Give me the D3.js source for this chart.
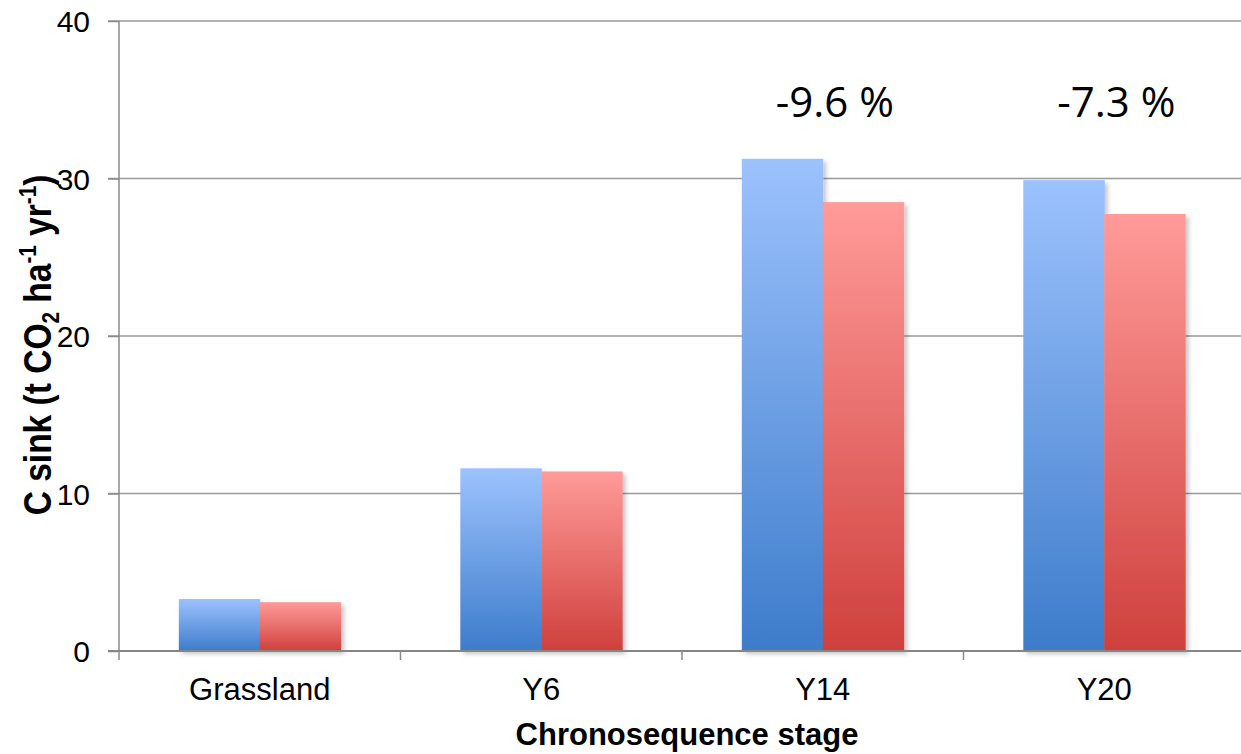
<!DOCTYPE html>
<html>
<head>
<meta charset="utf-8">
<script src="https://cdn.jsdelivr.net/npm/d3@7"></script>
<style>
  html, body { margin: 0; padding: 0; background: #fff; }
  svg { display: block; }
</style>
</head>
<body>
<svg id="chart" width="1241" height="754"></svg>
<script>
// ---- data ----
const categories = ["Grassland", "Y6", "Y14", "Y20"];
const seriesNames = ["blue", "red"];
const blueValues = [3.3, 11.6, 31.25, 29.9];
const redValues = [3.1, 11.4, 28.5, 27.75];
const changeLabels = [null, null, "-9.6 %", "-7.3 %"];
const yTicks = [0, 10, 20, 30, 40];
const xTitle = "Chronosequence stage";

(function () {
// ---- layout ----
const svg = d3.select("#chart");
const mLeft = 119, mRight = 1245, mTop = 21, mBottom = 651;

const x0 = d3.scaleBand().domain(categories).range([mLeft, mRight])
  .paddingInner(0.425).paddingOuter(0.2125);
const x1 = d3.scaleBand().domain(seriesNames).range([0, x0.bandwidth()]);
const y = d3.scaleLinear().domain([0, 40]).range([mBottom, mTop]);

const defs = svg.append("defs");
function grad(id, c1, c2) {
  const g = defs.append("linearGradient").attr("id", id)
    .attr("x1", 0).attr("y1", 0).attr("x2", 0).attr("y2", 1);
  g.append("stop").attr("offset", "0%").attr("stop-color", c1);
  g.append("stop").attr("offset", "100%").attr("stop-color", c2);
}
grad("gBlue", "#9cc2fd", "#3d7ccb");
grad("gRed", "#ff9b99", "#cf403d");
const f = defs.append("filter").attr("id", "shadow")
  .attr("x", "-10%").attr("y", "-10%").attr("width", "130%").attr("height", "130%");
f.append("feDropShadow").attr("dx", 3).attr("dy", 3).attr("stdDeviation", 2)
  .attr("flood-color", "#000").attr("flood-opacity", 0.22);

// gridlines
svg.append("g").selectAll("line").data(yTicks.filter(d => d > 0)).join("line")
  .attr("x1", 108).attr("x2", 1241)
  .attr("y1", d => y(d)).attr("y2", d => y(d))
  .attr("stroke", "#9a9a9a").attr("stroke-width", 1.5);

// y axis
const yAxis = d3.axisLeft(y).tickValues(yTicks).tickSize(11).tickPadding(18);
const gy = svg.append("g").attr("transform", `translate(${mLeft},0)`).call(yAxis);
gy.select(".domain").remove();
gy.selectAll(".tick line").attr("stroke", "#8a8a8a").attr("stroke-width", 1.5);
gy.selectAll(".tick text").attr("font-family", "Liberation Sans, Arial, sans-serif")
  .attr("font-size", 30).attr("fill", "#000").attr("dy", "0.36em");
svg.append("line").attr("x1", mLeft).attr("x2", mLeft).attr("y1", mTop).attr("y2", 660)
  .attr("stroke", "#8a8a8a").attr("stroke-width", 1.5);

// bars
const groups = svg.append("g").selectAll("g").data(categories).join("g")
  .attr("transform", d => `translate(${x0(d)},0)`);
groups.each(function (c, i) {
  const g = d3.select(this);
  const vals = [{s: "blue", v: blueValues[i], f: "url(#gBlue)"},
                {s: "red", v: redValues[i], f: "url(#gRed)"}];
  g.append("g").attr("filter", "url(#shadow)").selectAll("rect").data(vals).join("rect")
    .attr("x", d => x1(d.s)).attr("width", x1.bandwidth() + 0.5)
    .attr("y", d => y(d.v)).attr("height", d => y(0) - y(d.v))
    .attr("fill", d => d.f);
});

// x axis
const xAxis = d3.axisBottom(x0).tickSize(0).tickPadding(0).tickFormat(d => d);
const gx = svg.append("g").attr("transform", `translate(0,${mBottom})`).call(xAxis);
gx.select(".domain").remove();
gx.selectAll(".tick text").attr("font-family", "Liberation Sans, Arial, sans-serif")
  .attr("font-size", 31).attr("fill", "#000").attr("dy", null).attr("y", 49);
svg.append("line").attr("x1", mLeft - 11).attr("x2", 1241).attr("y1", mBottom).attr("y2", mBottom)
  .attr("stroke", "#868686").attr("stroke-width", 2);
// category separators
const step = x0.step();
svg.append("g").selectAll("line").data(categories.slice(1)).join("line")
  .attr("x1", d => x0(d) - x0.paddingInner() * step / 2)
  .attr("x2", d => x0(d) - x0.paddingInner() * step / 2)
  .attr("y1", mBottom).attr("y2", mBottom + 9)
  .attr("stroke", "#8a8a8a").attr("stroke-width", 1.5);

// change labels
svg.append("g").selectAll("text").data(categories.filter((c, i) => changeLabels[i]))
  .join("text")
  .attr("x", d => x0(d) + x0.bandwidth() / 2 + 12)
  .attr("y", 117)
  .attr("text-anchor", "middle")
  .attr("font-family", "Open Sans, Noto Sans, sans-serif")
  .attr("font-size", 42).attr("fill", "#000")
  .text(d => changeLabels[categories.indexOf(d)]);

// x title
svg.append("text").attr("x", 687).attr("y", 745)
  .attr("text-anchor", "middle")
  .attr("font-family", "Liberation Sans, Arial, sans-serif")
  .attr("font-weight", "bold").attr("font-size", 31).text(xTitle);

// y title with sub/superscripts
const yt = svg.append("text")
  .attr("transform", `translate(51,345) rotate(-90) scale(0.86,1)`)
  .attr("text-anchor", "middle")
  .attr("font-family", "Liberation Sans, Arial, sans-serif")
  .attr("font-weight", "bold").attr("font-size", 39);
yt.append("tspan").text("C sink (t CO");
yt.append("tspan").attr("font-size", 24).attr("dy", 8).text("2");
yt.append("tspan").attr("dy", -8).text(" ha");
yt.append("tspan").attr("font-size", 24).attr("dy", -15).text("-1");
yt.append("tspan").attr("dy", 15).text(" yr");
yt.append("tspan").attr("font-size", 24).attr("dy", -15).text("-1");
yt.append("tspan").attr("dy", 15).text(")");
})();
</script>
</body>
</html>
